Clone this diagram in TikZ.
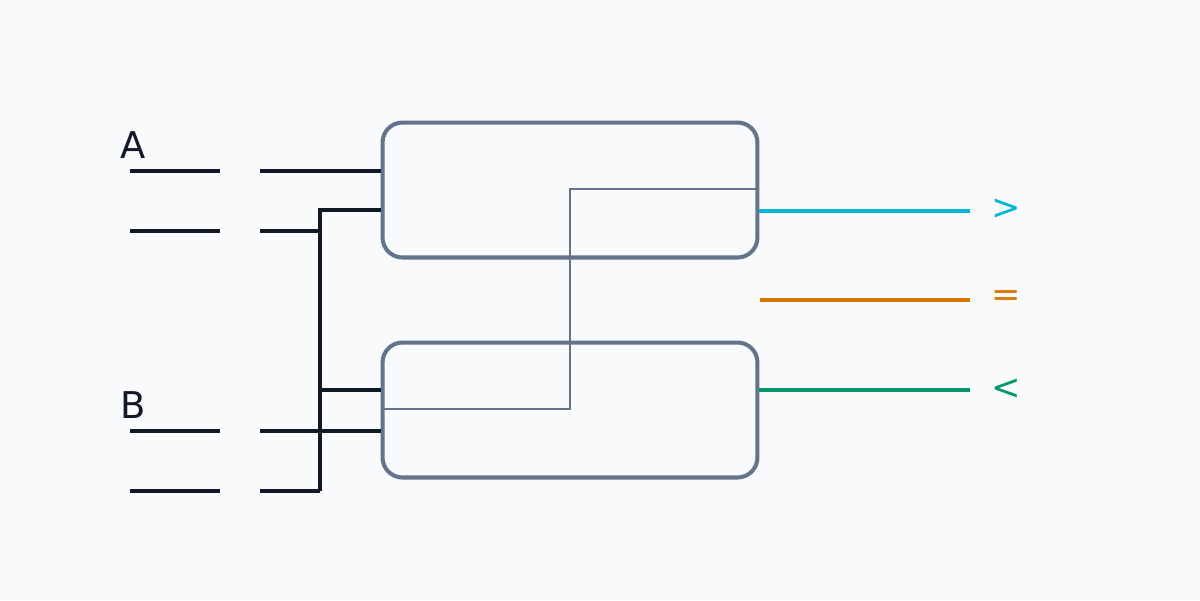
\documentclass[tikz,border=0pt]{standalone}
\usepackage{fontspec}
\setmainfont{DejaVu Sans}
\definecolor{bg}{HTML}{F8FAFC}
\definecolor{ink}{HTML}{111827}
\definecolor{gry}{HTML}{64748B}
\definecolor{cy}{HTML}{06B6D4}
\definecolor{org}{HTML}{D97706}
\definecolor{grn}{HTML}{059669}
\begin{document}
\begin{tikzpicture}[x=0.02cm,y=-0.02cm,
  wire/.style={draw=ink,line width=2.8pt},
  blk/.style={draw=gry,line width=2.3pt,rounded corners=0.4cm,minimum width=7.5cm,minimum height=2.7cm,inner sep=0pt},
  thin/.style={draw=gry,line width=1.6pt},
  lbl/.style={font=\fontsize{21}{21}\selectfont,text=ink},
  sym/.style={font=\fontsize{20}{20}\selectfont}]
\fill[bg] (0,0) rectangle (1200,600);
\useasboundingbox (0,0) rectangle (1200,600);
\node[blk] (top) at (570,190) {};
\node[blk] (bot) at (570,410) {};
\node[lbl] (la) at (133,145) {A};
\node[lbl] (lb) at (133,405) {B};
\foreach \n/\y in {a1/171,a2/231,b1/431,b2/491}{
  \coordinate (\n s) at (130,\y); \coordinate (\n e) at (220,\y);
  \coordinate (\n t) at (260,\y);
  \draw[wire] (\n s) -- (\n e);}
\coordinate (j1) at (320,210); \coordinate (j2) at (320,491);
\draw[wire] (a1t) -- (top.west |- a1t);
\draw[wire] (a2t) -- (320,231);
\draw[wire] (b1t) -- (bot.west |- b1t);
\draw[wire] (b2t) -- (j2);
\draw[wire] (j2) -- (j1) -- (top.west |- j1);
\draw[wire] (320,390) -- (bot.west |- 0,390);
\coordinate (r1) at (top.east |- 0,189);
\coordinate (r2) at (bot.west |- 0,409);
\draw[thin] (r1) -- (570,189) -- (570,409) -- (r2);
\node[sym,text=cy] (gt) at (1006,209) {>};
\node[sym,text=org] (eq) at (1006,299) {=};
\node[sym,text=grn] (lt) at (1006,389) {<};
\draw[cy,line width=2.8pt] (top.east |- 0,211) -- (970,211);
\draw[org,line width=2.8pt] (760,300) -- (970,300);
\draw[grn,line width=2.8pt] (bot.east |- 0,390) -- (970,390);
\end{tikzpicture}
\end{document}
